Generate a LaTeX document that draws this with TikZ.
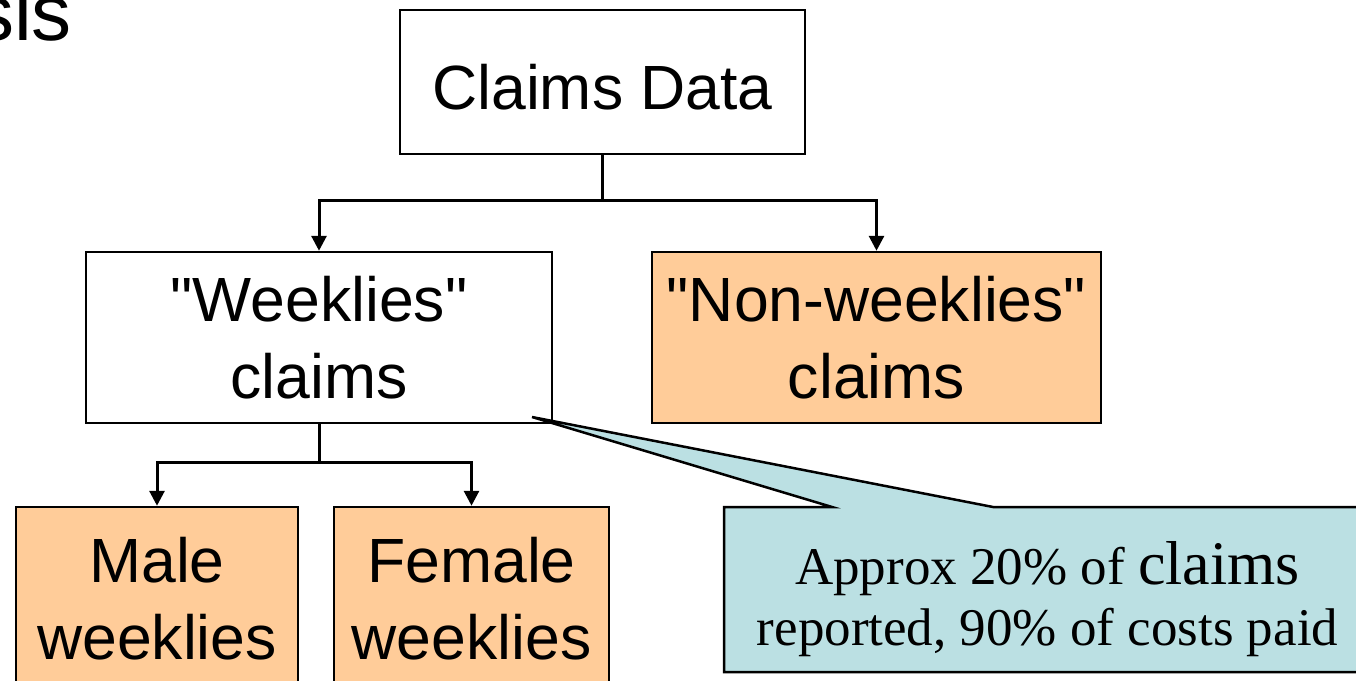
\documentclass[tikz,border=0pt]{standalone}
\usepackage{fontspec}
\setmainfont{Liberation Sans}[Ligatures=TeXOff]
\newfontfamily\notefont{Liberation Serif}[Ligatures=TeXOff]
\usetikzlibrary{arrows.meta}
\definecolor{boxorange}{HTML}{FFCC99}
\definecolor{noteblue}{HTML}{BBE0E3}
\begin{document}
\begin{tikzpicture}[x=1pt,y=-1pt,
  box/.style={draw=black, line width=2.5pt, inner sep=0pt, align=center,
    font=\fontsize{62.5}{77}\selectfont},
  whitebox/.style={box, fill=white},
  orangebox/.style={box, fill=boxorange},
  conn/.style={line width=3pt, draw=black},
  arr/.style={conn, -{Triangle[length=15pt,width=15pt]}},
  note/.style={draw=black, line width=2.5pt, fill=noteblue, line join=miter}
]
\useasboundingbox (0,0) rectangle (1356,680);
% cropped title fragment
\node[anchor=base east, inner sep=0pt, font=\fontsize{80}{80}\selectfont] (title) at (72,40) {sis};
% boxes
\node[whitebox, minimum width=405pt, minimum height=144pt, text height=54pt, text depth=0pt] (cd) at (602.5,82) {Claims Data};
\node[whitebox, minimum width=466pt, minimum height=171pt] (wk) at (319,337.5) {"Weeklies"\\claims};
\node[orangebox, minimum width=449pt, minimum height=171pt] (nw) at (876.5,337.5) {"Non-weeklies"\\claims};
\node[orangebox, minimum width=282pt, minimum height=183pt] (male) at (157,598.5) {Male\\weeklies};
\node[orangebox, minimum width=275pt, minimum height=183pt] (female) at (471.5,598.5) {Female\\weeklies};
% connectors
\coordinate (j1) at (602.5,200);
\coordinate (j2) at (319,462);
\draw[conn] (cd.south) -- (j1);
\draw[arr] (j1) -| (wk.north);
\draw[arr] (j1) -| (nw.north);
\draw[conn] (wk.south) -- (j2);
\draw[arr] (j2) -| (male.north);
\draw[arr] (j2) -| (female.north);
% callout
\coordinate (tip) at (532,417);
\draw[note] (724,507) -- (832,507) -- (tip) -- (993,507) -- (1372,507) -- (1372,672) -- (724,672) -- cycle;
\node[align=center, inner sep=0pt, font=\notefont\fontsize{53}{61}\selectfont] (notetext) at (1047.5,599.5)
  {Approx 20\% of {\fontsize{62}{61}\selectfont claims}\\reported, 90\% of costs paid};
\end{tikzpicture}
\end{document}
